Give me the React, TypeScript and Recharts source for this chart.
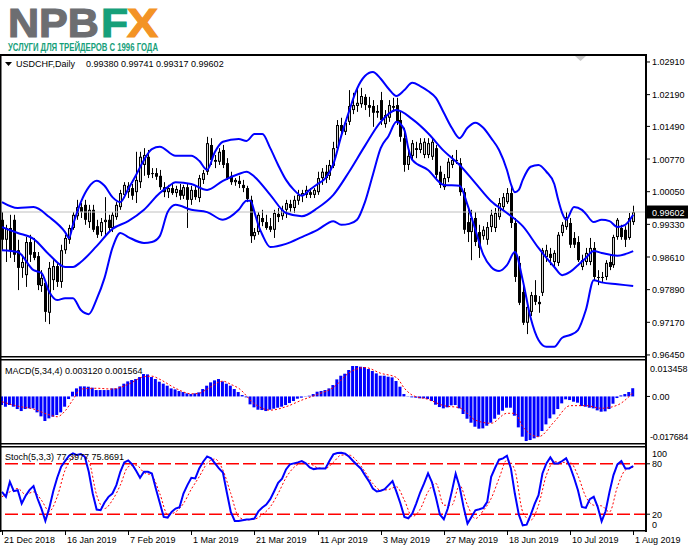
import React from "react";
import { ComposedChart, Bar, Line, XAxis, YAxis, ReferenceLine } from "recharts";

// USDCHF daily, 21 Dec 2018 .. 1 Aug 2019
const opens = [
  0.9943, 0.9899, 0.9925, 0.9943, 0.9876, 0.9837, 0.9821, 0.9894, 0.9872, 0.9863,
  0.9797, 0.9804, 0.9738, 0.981, 0.9841, 0.9806, 0.9876, 0.9899, 0.9925, 0.9951,
  0.9971, 0.9976, 0.9938, 0.9965, 0.9929, 0.9916, 0.9938, 0.9943, 0.9925, 0.9949,
  0.9971, 0.9998, 1.0004, 1.0013, 1.0004, 1.0026, 1.0064, 1.0082, 1.0044, 1.0046,
  1.004, 1.0015, 1.0004, 1.0013, 1.0002, 1.0009, 0.9996, 1.0015, 0.9987, 1.0009,
  0.9991, 1.0031, 1.0049, 1.0108, 1.0075, 1.0071, 1.0097, 1.0068, 1.004, 1.0026,
  1.0029, 1.002, 1.0013, 0.9987, 0.9907, 0.9916, 0.9947, 0.9938, 0.9929, 0.9921,
  0.9956, 0.9951, 0.9965, 0.9978, 0.9969, 0.9985, 0.9996, 0.9998, 1.0004, 0.9998,
  1.0004, 1.0035, 1.0049, 1.004, 1.0062, 1.0101, 1.0152, 1.0137, 1.0159, 1.0185,
  1.0194, 1.0198, 1.0214, 1.0196, 1.0194, 1.0179, 1.0207, 1.0154, 1.0168, 1.0194,
  1.0196, 1.0163, 1.0123, 1.0064, 1.0084, 1.0097, 1.0097, 1.0086, 1.0086, 1.0082,
  1.0101, 1.0049, 1.0015, 1.0035, 1.0064, 1.0075, 1.0068, 1.0004, 0.9938, 0.9916,
  0.9947, 0.9916, 0.9907, 0.9899, 0.9927, 0.9925, 0.9949, 0.9971, 0.9982, 1.0002,
  0.9936, 0.9848, 0.9784, 0.9716, 0.974, 0.9777, 0.9762, 0.9782, 0.9861, 0.9868,
  0.985, 0.9848, 0.9914, 0.9927, 0.9936, 0.9903, 0.9894, 0.9839, 0.985, 0.985,
  0.9881, 0.9817, 0.9815, 0.9817, 0.985, 0.9843, 0.9905, 0.9925, 0.9921, 0.9903,
  0.9938,
];
const highs = [
  0.996, 0.9932, 0.9954, 0.9954, 0.9899, 0.9866, 0.9905, 0.991, 0.9903, 0.9872,
  0.9832, 0.981, 0.985, 0.9854, 0.985, 0.9888, 0.991, 0.9932, 0.996, 0.9987,
  0.998, 0.9987, 0.9976, 0.9976, 0.9943, 0.9947, 0.9993, 0.9954, 0.996, 0.9982,
  1.0009, 1.0026, 1.0026, 1.0022, 1.0093, 1.0093, 1.0101, 1.0097, 1.0057, 1.0057,
  1.0053, 1.0026, 1.002, 1.0022, 1.0018, 1.0022, 1.002, 1.0022, 1.0018, 1.0018,
  1.0042, 1.0053, 1.0126, 1.0123, 1.0086, 1.0101, 1.0108, 1.0079, 1.0049, 1.0035,
  1.004, 1.0031, 1.0018, 0.9996, 0.9925, 0.996, 0.9965, 0.9954, 0.9947, 0.9965,
  0.9969, 0.9974, 0.9987, 0.9987, 0.9996, 1.0009, 1.0009, 1.0018, 1.0013, 1.0013,
  1.0049, 1.0057, 1.0064, 1.0075, 1.0115, 1.0163, 1.0168, 1.0163, 1.0229, 1.0223,
  1.0234, 1.0234, 1.022, 1.0214, 1.0207, 1.0196, 1.0225, 1.0185, 1.0207, 1.0212,
  1.0212, 1.0181, 1.0146, 1.0097, 1.0119, 1.0115, 1.0123, 1.0123, 1.0123, 1.0123,
  1.0108, 1.0062, 1.0044, 1.0079, 1.0086, 1.0097, 1.0079, 1.0013, 0.9965, 0.9965,
  0.996, 0.9932, 0.9929, 0.9938, 0.9965, 0.9969, 0.9991, 1.0002, 1.0013, 1.0018,
  0.9947, 0.9863, 0.9799, 0.9755, 0.9784, 0.981, 0.9775, 0.9881, 0.9888, 0.9881,
  0.9876, 0.9916, 0.9938, 0.996, 0.9947, 0.9916, 0.9907, 0.9866, 0.9881, 0.9903,
  0.9894, 0.9832, 0.9828, 0.9854, 0.9866, 0.991, 0.9947, 0.9932, 0.9929, 0.9958,
  0.99741,
];
const lows = [
  0.9876, 0.985, 0.9859, 0.985, 0.9788, 0.9815, 0.9795, 0.985, 0.9854, 0.9788,
  0.9784, 0.9718, 0.9713, 0.9788, 0.9795, 0.9793, 0.9868, 0.989, 0.9921, 0.9943,
  0.9947, 0.9932, 0.9925, 0.9916, 0.9903, 0.9907, 0.9905, 0.9916, 0.9916, 0.9943,
  0.9965, 0.9991, 0.9991, 0.9987, 0.998, 1.0013, 1.004, 1.0035, 1.0035, 1.0031,
  1.0009, 0.9993, 0.9991, 0.9998, 0.9993, 0.9987, 0.9989, 0.9925, 0.9976, 0.9987,
  0.9982, 1.0022, 1.0042, 1.0064, 1.0057, 1.0064, 1.0057, 1.0031, 1.002, 1.0018,
  1.0013, 1.0004, 0.9982, 0.9892, 0.9899, 0.991, 0.9929, 0.9921, 0.9916, 0.9903,
  0.9938, 0.9943, 0.9947, 0.996, 0.9958, 0.9976, 0.9982, 0.9991, 0.9991, 0.9991,
  0.9998, 1.002, 1.0024, 1.0031, 1.0057, 1.0097, 1.0132, 1.013, 1.0152, 1.0176,
  1.0181, 1.019, 1.0185, 1.017, 1.0148, 1.0168, 1.0152, 1.0146, 1.0159, 1.0181,
  1.0152, 1.0115, 1.0049, 1.0053, 1.0075, 1.0079, 1.009, 1.0079, 1.0079, 1.0075,
  1.0035, 1.0013, 1.0009, 1.0026, 1.0057, 1.0066, 0.9996, 0.9912, 0.9894, 0.9854,
  0.9885, 0.9859, 0.9899, 0.9888, 0.9916, 0.9916, 0.9943, 0.9965, 0.9978, 0.9925,
  0.9806, 0.9755, 0.9711, 0.9691, 0.9731, 0.9755, 0.9738, 0.9775, 0.985, 0.9843,
  0.9841, 0.9841, 0.9907, 0.9921, 0.9881, 0.9881, 0.985, 0.9832, 0.9843, 0.9843,
  0.981, 0.9799, 0.9806, 0.981, 0.9832, 0.9837, 0.9899, 0.9899, 0.9883, 0.9899,
  0.99317,
];
const closes = [
  0.9899, 0.9925, 0.9876, 0.9866, 0.9837, 0.985, 0.9894, 0.9866, 0.9859, 0.9799,
  0.9815, 0.974, 0.9837, 0.9841, 0.9806, 0.9876, 0.9903, 0.9925, 0.9954, 0.9971,
  0.996, 0.9943, 0.9965, 0.9921, 0.991, 0.9938, 0.9943, 0.9925, 0.9954, 0.9976,
  1.0002, 1.002, 1.0018, 0.9996, 1.0031, 1.0082, 1.0086, 1.0042, 1.0046, 1.0038,
  1.0015, 1.0004, 1.0013, 1.0002, 1.0011, 0.9996, 1.0015, 0.9987, 1.0009, 0.9993,
  1.0035, 1.0046, 1.0112, 1.0075, 1.0071, 1.0093, 1.0064, 1.0035, 1.0026, 1.0031,
  1.0022, 1.0013, 0.9989, 0.9907, 0.9916, 0.9954, 0.9938, 0.9925, 0.9921, 0.9958,
  0.9949, 0.9965, 0.998, 0.9969, 0.9987, 0.9998, 1.0002, 1.0009, 0.9998, 1.0009,
  1.0035, 1.0049, 1.0035, 1.0064, 1.0101, 1.0152, 1.0139, 1.0157, 1.0194, 1.0196,
  1.0201, 1.0216, 1.0196, 1.019, 1.0179, 1.0183, 1.0163, 1.0174, 1.0196, 1.019,
  1.0159, 1.0126, 1.0064, 1.0084, 1.0112, 1.0101, 1.0112, 1.0115, 1.0112, 1.0115,
  1.0042, 1.002, 1.0035, 1.0071, 1.0075, 1.0073, 1.0004, 0.9921, 0.9916, 0.9947,
  0.9894, 0.9881, 0.9921, 0.9927, 0.9954, 0.9958, 0.998, 0.9993, 1.0002, 0.9936,
  0.9817, 0.976, 0.9716, 0.9751, 0.9777, 0.9762, 0.9757, 0.9876, 0.9876, 0.9859,
  0.987, 0.991, 0.9932, 0.9949, 0.9888, 0.9888, 0.9854, 0.9854, 0.987, 0.9881,
  0.9817, 0.9815, 0.9817, 0.9848, 0.9839, 0.9905, 0.9943, 0.9905, 0.9899, 0.9947,
  0.99602,
];

// Bollinger bands, read as [bar, price]
const upperBand: [number, number][] = [
  [0, 0.9982], [4, 0.9969], [8, 0.9971], [12, 0.9949], [16, 0.9916], [17, 0.9903], [18, 0.9932],
  [20, 0.9982], [22, 1.0015], [24, 1.0029], [26, 1.0018], [28, 0.9993], [30, 0.9982], [32, 1.0011],
  [34, 1.0042], [36, 1.0075], [38, 1.0099], [40, 1.0104], [44, 1.0084], [48, 1.0084], [50, 1.0073],
  [52, 1.0053], [54, 1.0093], [56, 1.0115], [60, 1.0121], [62, 1.0117], [64, 1.0132], [66, 1.0132],
  [68, 1.0101], [70, 1.0064], [72, 1.0031], [74, 1.0009], [76, 0.9996], [78, 1.0009], [80, 1.0022],
  [82, 1.0035], [84, 1.0066], [86, 1.0128], [88, 1.0183], [90, 1.0232], [92, 1.026], [94, 1.0269],
  [96, 1.0254], [98, 1.0232], [100, 1.0216], [102, 1.0229], [104, 1.0245], [106, 1.0238], [108, 1.0227],
  [110, 1.0212], [112, 1.0179], [114, 1.0146], [116, 1.0123], [118, 1.0146], [120, 1.0157], [122, 1.0146],
  [124, 1.0123], [126, 1.0097], [128, 1.0053], [129, 1.0022], [130, 1.0004], [131, 1.0009], [132, 1.0031],
  [134, 1.006], [136, 1.0064], [138, 1.0049], [140, 1.0022], [141, 0.9987], [142, 0.9958], [143, 0.9943],
  [145, 0.9971], [147, 0.9965], [148, 0.9956], [150, 0.9938], [152, 0.9943], [154, 0.994], [156, 0.9927],
  [158, 0.9932], [160, 0.9954],
];
const middleBand: [number, number][] = [
  [0, 0.9927], [4, 0.9914], [8, 0.9901], [12, 0.9866], [16, 0.9839], [18, 0.9839], [20, 0.985],
  [24, 0.9885], [28, 0.9923], [32, 0.994], [36, 0.9965], [40, 1.0002], [42, 1.0015], [44, 1.0026],
  [48, 1.0022], [52, 1.0009], [56, 1.0029], [60, 1.0044], [62, 1.0049], [64, 1.0038], [68, 0.9998],
  [72, 0.9958], [76, 0.9951], [80, 0.9969], [84, 0.9998], [88, 1.0049], [92, 1.0106], [96, 1.0159],
  [100, 1.0185], [104, 1.0165], [108, 1.0134], [112, 1.0095], [116, 1.0064], [120, 1.0024], [124, 0.9984],
  [128, 0.9958], [132, 0.9929], [136, 0.9881], [140, 0.9839], [142, 0.9821], [144, 0.9828], [146, 0.9843],
  [148, 0.9859], [150, 0.9874], [152, 0.987], [156, 0.9864], [160, 0.9874],
];
const lowerBand: [number, number][] = [
  [0, 0.9876], [4, 0.9872], [8, 0.9832], [10, 0.9826], [12, 0.9784], [14, 0.9766], [16, 0.977],
  [18, 0.977], [20, 0.9744], [22, 0.9735], [24, 0.9768], [26, 0.9815], [28, 0.9881], [30, 0.9914],
  [32, 0.9905], [36, 0.9892], [38, 0.9894], [40, 0.9907], [42, 0.996], [44, 0.9976], [48, 0.9965],
  [52, 0.996], [56, 0.9943], [60, 0.9965], [62, 0.9985], [63, 0.9985], [64, 0.996], [65, 0.9931],
  [66, 0.991], [68, 0.9883], [72, 0.989], [76, 0.9905], [80, 0.9921], [84, 0.994], [86, 0.9932],
  [88, 0.9934], [90, 0.9943], [92, 0.9982], [94, 1.0042], [96, 1.0101], [98, 1.0128], [100, 1.0159],
  [102, 1.0141], [103, 1.0101], [104, 1.0075], [108, 1.0053], [112, 1.002], [116, 1.0018], [118, 0.9976],
  [120, 0.9921], [122, 0.9866], [124, 0.9839], [126, 0.983], [128, 0.9843], [130, 0.9872], [132, 0.981],
  [134, 0.9727], [136, 0.9678], [138, 0.9663], [140, 0.9663], [142, 0.9683], [144, 0.9689], [146, 0.97],
  [148, 0.9744], [150, 0.981], [152, 0.9805], [156, 0.9801], [160, 0.9797],
];

// MACD(5,34,4)
const macdHist = [
  -0.00327, -0.0039, -0.00327, -0.0039, -0.00479, -0.00555, -0.00479, -0.00453, -0.00453, -0.00605,
  -0.00757, -0.00934, -0.00833, -0.0077, -0.00706, -0.00605, -0.0039, -0.00099, 0.0018, 0.00306,
  0.00382, 0.00382, 0.0037, 0.00332, 0.00243, 0.00243, 0.00243, 0.00243, 0.00306, 0.00306,
  0.00382, 0.00484, 0.00572, 0.00623, 0.00661, 0.00737, 0.00851, 0.00838, 0.00737, 0.00661,
  0.0056, 0.00484, 0.00408, 0.00306, 0.00268, 0.00205, 0.00167, 0.00116, 0.00091, 0.00116,
  0.00154, 0.00281, 0.00408, 0.00534, 0.0061, 0.00661, 0.00572, 0.00484, 0.00408, 0.00281,
  0.00167, 0.00053, -0.00035, -0.00301, -0.00415, -0.00504, -0.00517, -0.00555, -0.00504, -0.00466,
  -0.00428, -0.0039, -0.00327, -0.00251, -0.00175, -0.00086, -0.00048, -0.0001, 0.00028, 0.00091,
  0.0018, 0.00205, 0.00243, 0.00306, 0.00433, 0.00648, 0.00787, 0.00863, 0.01003, 0.01155,
  0.01155, 0.01129, 0.01117, 0.01041, 0.00965, 0.00876, 0.00787, 0.00787, 0.00749, 0.00724,
  0.00585, 0.0037, 0.00091, -0.0001, -0.00035, -0.00048, -0.00073, -0.00073, -0.00099, -0.00175,
  -0.00314, -0.00403, -0.00453, -0.00415, -0.00339, -0.00327, -0.00453, -0.00668, -0.00846, -0.00998,
  -0.0115, -0.01225, -0.01213, -0.01112, -0.00998, -0.00846, -0.00694, -0.00542, -0.00428, -0.00428,
  -0.00732, -0.01175, -0.01529, -0.01694, -0.01656, -0.01593, -0.01529, -0.01314, -0.01061, -0.00833,
  -0.00681, -0.00479, -0.00263, -0.00111, -0.00137, -0.002, -0.00238, -0.00365, -0.0039, -0.00428,
  -0.00453, -0.00529, -0.0058, -0.00567, -0.00479, -0.00276, -0.00061, 0.0004, 0.00091, 0.00167,
  0.00312,
];
const macdSignal: [number, number][] = [
  [0, -0.002], [4, -0.0037], [8, -0.0048], [12, -0.007], [14, -0.0077], [16, -0.0055], [18, -0.0012],
  [20, 0.0028], [24, 0.0031], [28, 0.0028], [32, 0.0046], [36, 0.0075], [38, 0.0077], [40, 0.0065],
  [44, 0.0031], [48, 0.001], [50, 0.0012], [52, 0.0028], [56, 0.0058], [58, 0.0046], [60, 0.0031],
  [64, -0.0028], [68, -0.0052], [72, -0.0039], [76, -0.0014], [80, 0.0008], [84, 0.0034], [88, 0.009],
  [92, 0.011], [96, 0.0088], [100, 0.0072], [102, 0.0031], [104, 0.0005], [108, -0.0011], [112, -0.0035],
  [116, -0.0043], [120, -0.009], [124, -0.0102], [128, -0.0064], [130, -0.0064], [132, -0.0115],
  [136, -0.0153], [140, -0.0096], [144, -0.0035], [148, -0.0035], [152, -0.0045], [156, -0.0033],
  [160, 0.001564],
];

// Stochastic(5,3,3)
const stochMain = [
  46.6, 40.7, 58.6, 47.4, 48.6, 32.7, 41.9, 49.0, 53.4, 38.7,
  26.7, 12.0, 27.5, 47.4, 63.4, 76.5, 83.3, 89.6, 92.4, 90.4,
  91.6, 88.4, 70.5, 44.6, 25.5, 24.7, 33.9, 40.7, 44.6, 54.6,
  70.5, 81.7, 84.1, 79.3, 71.7, 63.4, 70.5, 70.5, 68.5, 50.6,
  33.5, 16.8, 16.0, 22.7, 26.7, 28.3, 44.6, 54.6, 63.4, 62.6,
  74.5, 82.5, 88.8, 86.5, 80.5, 74.5, 69.7, 45.8, 22.7, 12.0,
  12.0, 12.8, 13.6, 14.0, 14.8, 23.5, 27.9, 31.5, 37.9, 47.4,
  57.4, 62.2, 73.3, 79.3, 80.5, 81.7, 83.3, 80.5, 75.7, 73.7,
  74.5, 74.5, 74.5, 83.3, 91.2, 92.8, 93.2, 92.0, 88.4, 83.3,
  78.5, 74.1, 66.5, 59.4, 50.6, 47.0, 47.8, 49.8, 54.6, 59.4,
  46.6, 32.7, 16.8, 15.2, 20.7, 32.7, 45.8, 56.6, 68.5, 57.8,
  39.9, 19.6, 14.0, 26.7, 46.6, 68.1, 52.6, 28.7, 8.8, 16.8,
  24.7, 25.9, 27.5, 34.7, 64.6, 75.3, 84.9, 86.5, 89.6, 74.5,
  44.6, 19.6, 6.8, 7.6, 18.8, 31.9, 42.7, 68.5, 80.5, 87.7,
  80.5, 80.5, 83.3, 86.5, 76.5, 63.4, 48.6, 28.7, 27.5, 37.9,
  40.7, 28.7, 11.6, 23.5, 46.6, 66.5, 79.3, 83.3, 74.5, 74.5,
  77.3977,
];
const stochSignal: [number, number][] = [
  [0, 40.7], [2, 46.6], [4, 50.6], [6, 43.5], [8, 46.6], [10, 36.7], [12, 23.5], [14, 40.7],
  [16, 72.5], [18, 87.3], [20, 91.2], [22, 83.3], [24, 42.7], [26, 26.7], [28, 36.7], [30, 54.6],
  [32, 76.5], [34, 78.5], [36, 69.7], [38, 65.8], [40, 44.6], [42, 19.6], [44, 22.7], [46, 32.7],
  [48, 49.8], [50, 64.6], [52, 80.5], [54, 85.7], [56, 72.5], [58, 44.6], [60, 16.8], [62, 13.2],
  [64, 14.0], [66, 19.6], [68, 28.7], [70, 44.6], [72, 63.4], [74, 75.7], [76, 80.5], [78, 80.1],
  [80, 75.3], [82, 74.5], [84, 81.7], [86, 90.4], [88, 90.4], [90, 83.3], [92, 70.5], [94, 56.6],
  [96, 48.6], [98, 49.4], [100, 52.6], [102, 36.7], [104, 17.2], [106, 25.9], [108, 46.6], [110, 56.6],
  [112, 30.7], [114, 30.7], [116, 54.6], [118, 30.7], [120, 14.8], [122, 24.3], [124, 38.7], [126, 62.6],
  [128, 84.5], [130, 72.5], [132, 22.7], [134, 12.8], [136, 30.7], [138, 66.5], [140, 82.5], [142, 81.7],
  [144, 81.7], [146, 65.8], [148, 40.7], [150, 30.7], [152, 29.9], [154, 22.7], [156, 52.6], [158, 72.5],
  [160, 75.8691],
];

const dateTicks = [0, 16, 32, 48, 64, 80, 96, 112, 128, 144, 160];
const dateLabels = [
  "21 Dec 2018", "16 Jan 2019", "7 Feb 2019", "1 Mar 2019", "21 Mar 2019", "11 Apr 2019",
  "3 May 2019", "27 May 2019", "18 Jun 2019", "10 Jul 2019", "1 Aug 2019",
];
const priceTicks = [0.9645, 0.9717, 0.9789, 0.9861, 0.9933, 1.0005, 1.0077, 1.0149, 1.0219, 1.0291];
const lastPrice = 0.99602;
const macdTicks = [-0.017684, 0, 0.013458];
const stochTicks = [0, 20, 80, 100];

const W = 691;
const AXIS_W = 44;
const SLOTS = 164;
const FONT = "'Liberation Sans', Arial, sans-serif";

const upMap = new Map(upperBand);
const midMap = new Map(middleBand);
const lowMap = new Map(lowerBand);
const sigMap = new Map(macdSignal);
const dMap = new Map(stochSignal);

const priceRows = Array.from({ length: SLOTS }, (_, i) => ({
  i,
  open: opens[i] ?? null,
  high: highs[i] ?? null,
  low: lows[i] ?? null,
  close: closes[i] ?? null,
  range: i < opens.length ? [lows[i], highs[i]] : null,
  upper: upMap.get(i) ?? null,
  mid: midMap.get(i) ?? null,
  lower: lowMap.get(i) ?? null,
}));

const macdRows = Array.from({ length: SLOTS }, (_, i) => ({
  i,
  hist: macdHist[i] ?? null,
  signal: sigMap.get(i) ?? null,
}));

const stochRows = Array.from({ length: SLOTS }, (_, i) => ({
  i,
  k: stochMain[i] ?? null,
  d: dMap.get(i) ?? null,
}));

function Candle(props: any) {
  const { x, y, width, height, payload } = props;
  if (!payload || payload.open == null || x == null) return null;
  const { open, high, low, close } = payload;
  const top = height < 0 ? y + height : y;
  const h = Math.abs(height);
  const k = high - low > 0 ? h / (high - low) : 0;
  const cx = Math.round(x + width / 2) + 0.5;
  const yO = top + (high - open) * k;
  const yC = top + (high - close) * k;
  const bTop = Math.min(yO, yC);
  const bH = Math.max(Math.abs(yC - yO), 1);
  const bull = close > open;
  return (
    <g>
      <line x1={cx} x2={cx} y1={top} y2={top + h} stroke="#000" strokeWidth={1} />
      <rect x={cx - 1.5} y={bTop} width={3} height={bH} fill="#000" />
      {bull && bH > 2 && (
        <rect x={cx - 0.5} y={bTop + 1} width={1} height={bH - 2} fill="#d4d4d4" />
      )}
    </g>
  );
}

function PriceTick(props: any) {
  const { x, y, payload } = props;
  const v = payload.value;
  if (Math.abs(v - lastPrice) < 1e-7) {
    return (
      <g>
        <rect x={x} y={y - 6.5} width={41} height={13} fill="#000" />
        <text x={x + 5} y={y + 3.5} fill="#fff" fontSize={9} fontFamily={FONT}>
          {v.toFixed(5)}
        </text>
      </g>
    );
  }
  return (
    <g>
      <line x1={x} x2={x + 3} y1={y} y2={y} stroke="#000" />
      <text x={x + 5} y={y + 3.5} fill="#000" fontSize={9} fontFamily={FONT}>
        {v.toFixed(5)}
      </text>
    </g>
  );
}

function MacdTick(props: any) {
  const { x, y, payload } = props;
  const v = payload.value;
  let dy = 3.5;
  let label = v.toFixed(6);
  if (v === 0) label = "0.00";
  if (v > 0) dy = 10.5;
  if (v < 0) dy = -3;
  return (
    <g>
      {v === 0 && <line x1={x} x2={x + 3} y1={y} y2={y} stroke="#000" />}
      <text
        x={x + (v === 0 ? 5 : 3)}
        y={y + dy}
        fill="#000"
        fontSize={9}
        fontFamily={FONT}
        letterSpacing={v < 0 ? -0.3 : 0}
      >
        {label}
      </text>
    </g>
  );
}

function StochTick(props: any) {
  const { x, y, payload } = props;
  const v = payload.value;
  let dy = 3.5;
  if (v === 100) dy = 9.5;
  if (v === 0) dy = -3.5;
  return (
    <g>
      {(v === 20 || v === 80) && <line x1={x} x2={x + 3} y1={y} y2={y} stroke="#000" />}
      <text x={x + 5} y={y + dy} fill="#000" fontSize={9} fontFamily={FONT}>
        {v}
      </text>
    </g>
  );
}

function DateTick(props: any) {
  const { x, y, payload } = props;
  const idx = dateTicks.indexOf(payload.value);
  const px = Math.round(x) + 0.5;
  return (
    <g>
      <line x1={px} x2={px} y1={y} y2={y + 4} stroke="#000" />
      <text x={px + 1.5} y={y + 12} fill="#000" fontSize={9} fontFamily={FONT}>
        {dateLabels[idx] ?? ""}
      </text>
    </g>
  );
}

// big logo letters: tight line box so the caption below stays clear
function LogoPart({ text, left, width, color }: { text: string; left: number; width: number; color: string }) {
  return (
    <div
      style={{
        position: "absolute",
        left,
        top: 8,
        width,
        height: 30,
        overflow: "visible",
        fontFamily: FONT,
        fontWeight: 700,
        fontSize: 41,
        lineHeight: "30px",
        color,
        WebkitTextStroke: `1.2px ${color}`,
        whiteSpace: "nowrap",
        transformOrigin: "0 0",
        transform: `scaleX(${width / (text.length === 3 ? 86.6 : text === "F" ? 25 : 27.4)})`,
      }}
    >
      {text}
    </div>
  );
}

export default function App() {
  return (
    <div
      style={{
        position: "absolute",
        left: 0,
        top: 0,
        width: W,
        height: 549,
        background: "#fff",
        overflow: "hidden",
      }}
    >
      {/* price panel: plot area 55..358 */}
      <div style={{ position: "absolute", left: 0, top: 55 }}>
        <ComposedChart
          width={W}
          height={310}
          data={priceRows}
          margin={{ top: 0, right: 0, bottom: 7, left: 0 }}
          barCategoryGap={0}
        >
          <XAxis dataKey="i" type="category" scale="band" hide />
          <YAxis
            orientation="right"
            type="number"
            domain={[0.96383, 1.03064]}
            allowDataOverflow
            ticks={[...priceTicks, lastPrice]}
            interval={0}
            width={AXIS_W}
            axisLine={false}
            tickLine={false}
            tickSize={0}
            tickMargin={0}
            tick={(p: any) => <PriceTick {...p} />}
          />
          <ReferenceLine y={lastPrice} stroke="#c0c0c0" strokeWidth={1} />
          <Bar dataKey="range" shape={(p: any) => <Candle {...p} />} isAnimationActive={false} />
          <Line dataKey="upper" type="monotone" stroke="#0000ff" strokeWidth={2} dot={false} connectNulls isAnimationActive={false} />
          <Line dataKey="mid" type="monotone" stroke="#0000ff" strokeWidth={2} dot={false} connectNulls isAnimationActive={false} />
          <Line dataKey="lower" type="monotone" stroke="#0000ff" strokeWidth={2} dot={false} connectNulls isAnimationActive={false} />
        </ComposedChart>
      </div>

      {/* MACD panel: plot area 361..443 */}
      <div style={{ position: "absolute", left: 0, top: 361 }}>
        <ComposedChart width={W} height={82} data={macdRows} margin={{ top: 0, right: 0, bottom: 0, left: 0 }}>
          <XAxis dataKey="i" type="category" scale="band" hide />
          <YAxis
            orientation="right"
            type="number"
            domain={[-0.017684, 0.013458]}
            allowDataOverflow
            ticks={macdTicks}
            interval={0}
            width={AXIS_W}
            axisLine={false}
            tickLine={false}
            tickSize={0}
            tickMargin={0}
            tick={(p: any) => <MacdTick {...p} />}
          />
          <Bar dataKey="hist" fill="#0000ff" barSize={3} isAnimationActive={false} />
          <Line dataKey="signal" type="monotone" stroke="#ff0000" strokeWidth={1} strokeDasharray="2 2" dot={false} connectNulls isAnimationActive={false} />
        </ComposedChart>
      </div>

      {/* Stochastic panel: plot area 447..531 */}
      <div style={{ position: "absolute", left: 0, top: 447 }}>
        <ComposedChart width={W} height={102} data={stochRows} margin={{ top: 0, right: 0, bottom: 0, left: 0 }}>
          <XAxis
            dataKey="i"
            type="category"
            scale="band"
            ticks={dateTicks}
            interval={0}
            height={18}
            axisLine={false}
            tickLine={false}
            tickSize={0}
            tickMargin={0}
            tick={(p: any) => <DateTick {...p} />}
          />
          <YAxis
            orientation="right"
            type="number"
            domain={[0, 100]}
            allowDataOverflow
            ticks={stochTicks}
            interval={0}
            width={AXIS_W}
            axisLine={false}
            tickLine={false}
            tickSize={0}
            tickMargin={0}
            tick={(p: any) => <StochTick {...p} />}
          />
          <ReferenceLine y={80} stroke="#ff0000" strokeWidth={1.5} strokeDasharray="13 4" />
          <ReferenceLine y={20} stroke="#ff0000" strokeWidth={1.5} strokeDasharray="13 4" />
          <Line dataKey="d" type="monotone" stroke="#ff0000" strokeWidth={1} strokeDasharray="2 2" dot={false} connectNulls isAnimationActive={false} />
          <Line dataKey="k" type="linear" stroke="#0000ff" strokeWidth={2} dot={false} isAnimationActive={false} />
        </ComposedChart>
      </div>

      {/* logo */}
      <LogoPart text="NPB" left={8} width={91} color="#6d6e71" />
      <LogoPart text="F" left={101} width={27} color="#16a07a" />
      <LogoPart text="X" left={127} width={31} color="#f39325" />

      {/* caption, panel frames and headers */}
      <svg
        width={W}
        height={549}
        style={{ position: "absolute", left: 0, top: 0, pointerEvents: "none" }}
      >
        <text x={8} y={51} fontFamily={FONT} fontWeight={700} fontSize={10.5} fill="#16a07a" textLength={150} lengthAdjust="spacingAndGlyphs">
          УСЛУГИ ДЛЯ ТРЕЙДЕРОВ С 1996 ГОДА
        </text>

        <rect x={0} y={54} width={647} height={2} fill="#000" />
        <rect x={0} y={356} width={647} height={1.5} fill="#000" />
        <rect x={0} y={359} width={647} height={1.5} fill="#000" />
        <rect x={0} y={443} width={647} height={1.5} fill="#000" />
        <rect x={0} y={446} width={647} height={1.5} fill="#000" />
        <rect x={0} y={530} width={647} height={1.5} fill="#000" />
        <rect x={0} y={54} width={1.5} height={478} fill="#000" />
        <rect x={645} y={54} width={2} height={478} fill="#000" />

        <polygon points="575,56 586,56 580.5,61" fill="#c8c8c8" />
        <polygon points="5,62 12,62 8.5,66" fill="#000" />
        <text x={16} y={67} fontFamily={FONT} fontSize={9} fill="#000">
          USDCHF,Daily
        </text>
        <text x={86} y={67} fontFamily={FONT} fontSize={9} fill="#000">
          0.99380 0.99741 0.99317 0.99602
        </text>
        <text x={5} y={374} fontFamily={FONT} fontSize={9} fill="#000">
          MACD(5,34,4) 0.003120 0.001564
        </text>
        <text x={5} y={460} fontFamily={FONT} fontSize={9} fill="#000">
          Stoch(5,3,3) 77.3977 75.8691
        </text>
      </svg>
    </div>
  );
}
